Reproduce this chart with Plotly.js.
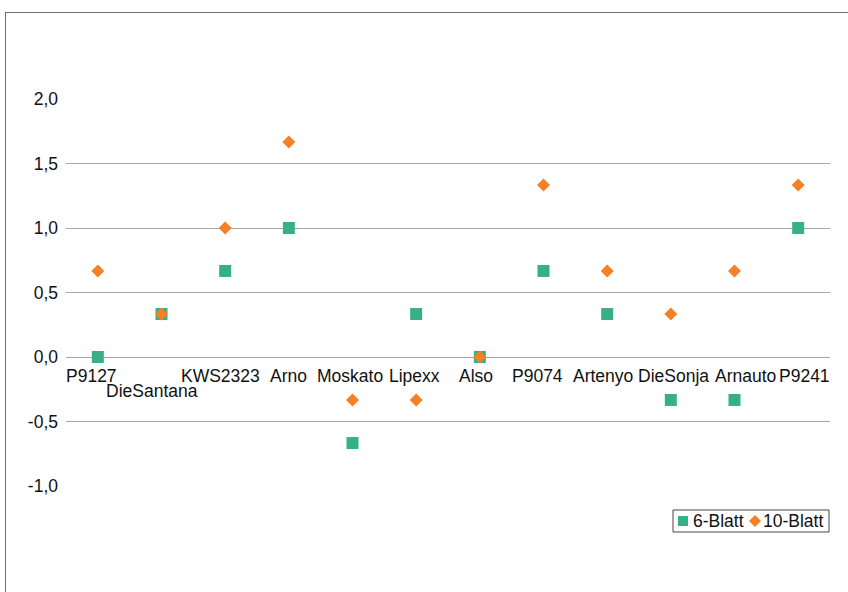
<!DOCTYPE html>
<html>
<head>
<meta charset="utf-8">
<script src="https://cdn.plot.ly/plotly-3.0.1.min.js"></script>
<style>
  html, body { margin: 0; padding: 0; background: #fff; }
  #wrap { position: relative; width: 848px; height: 592px; overflow: hidden; }
  #chart { position: absolute; left: 0; top: 0; width: 848px; height: 592px; }
  #frame { position: absolute; left: 5px; top: 12px; width: 1000px; height: 800px;
           border-left: 1px solid #6e6e6e; border-top: 1px solid #6e6e6e; pointer-events: none; }
</style>
</head>
<body>
<div id="wrap">
  <div id="chart"></div>
  <div id="frame"></div>
</div>
<script>
const categories = ["P9127", "DieSantana", "KWS2323", "Arno", "Moskato", "Lipexx", "Also", "P9074", "Artenyo", "DieSonja", "Arnauto", "P9241"];
const blatt6 = [0, 0.333, 0.667, 1.0, -0.667, 0.333, 0, 0.667, 0.333, -0.333, -0.333, 1.0];
const blatt10 = [0.667, 0.333, 1.0, 1.667, -0.333, -0.333, 0, 1.333, 0.667, 0.333, 0.667, 1.333];
const yTickVals = [-1.0, -0.5, 0.0, 0.5, 1.0, 1.5, 2.0];
const yTickText = ["-1,0", "-0,5", "0,0", "0,5", "1,0", "1,5", "2,0"];
const seriesNames = ["6-Blatt", "10-Blatt"];

// label layout (style only): horizontal nudges and stagger rows to avoid overlap
const labelXShift = [-6, -10, -5, 0, -3, -2, -4, -6, -4, 3, 11, 6];
const labelRow = [0, 1, 0, 0, 0, 0, 0, 0, 0, 0, 0, 0];

const GREEN = "#37b086";
const ORANGE = "#f58026";
const FONT = "Liberation Sans, Arial, sans-serif";
const FS = 17.5;

const xIdx = categories.map((c, i) => i);

const traces = [
  { type: "scatter", mode: "markers", name: seriesNames[0], x: xIdx, y: blatt6,
    marker: { symbol: "square", size: 12, color: GREEN }, hoverinfo: "skip" },
  { type: "scatter", mode: "markers", name: seriesNames[1], x: xIdx, y: blatt10,
    marker: { symbol: "diamond", size: 10, color: ORANGE }, hoverinfo: "skip" }
];

// plot area in px: x 66..830, y 99..486
const L = 66, R = 830, T = 99, B = 486;
const px = v => (v - L) / (R - L);
const py = v => (B - v) / (B - T);

const shapes = [
  { type: "rect", xref: "paper", yref: "paper", x0: px(673), x1: px(829), y0: py(532), y1: py(510),
    line: { color: "#444", width: 1 }, fillcolor: "rgba(0,0,0,0)" },
  { type: "rect", xref: "paper", yref: "paper", xsizemode: "pixel", ysizemode: "pixel",
    xanchor: px(683), yanchor: py(521), x0: -5, x1: 5, y0: -5, y1: 5,
    line: { width: 0 }, fillcolor: GREEN },
  { type: "path", xref: "paper", yref: "paper", xsizemode: "pixel", ysizemode: "pixel",
    xanchor: px(755), yanchor: py(521), path: "M 0 -6 L 6 0 L 0 6 L -6 0 Z",
    line: { width: 0 }, fillcolor: ORANGE }
];

const annotations = [
  { xref: "paper", yref: "paper", x: px(691), y: py(521), xanchor: "left", yanchor: "middle",
    text: seriesNames[0], showarrow: false, font: { family: FONT, size: FS, color: "#111" } },
  { xref: "paper", yref: "paper", x: px(761), y: py(521), xanchor: "left", yanchor: "middle",
    text: seriesNames[1], showarrow: false, font: { family: FONT, size: FS, color: "#111" } }
];

categories.forEach((c, i) => {
  annotations.push({
    xref: "x", yref: "y", x: i, y: 0, xanchor: "center", yanchor: "middle",
    xshift: labelXShift[i], yshift: -19 - 15 * labelRow[i],
    text: c, showarrow: false, font: { family: FONT, size: FS, color: "#111" }
  });
});

const layout = {
  width: 848, height: 592,
  margin: { l: L, r: 848 - R, t: T, b: 592 - B, pad: 0 },
  paper_bgcolor: "#fff", plot_bgcolor: "#fff",
  showlegend: false,
  font: { family: FONT, size: FS, color: "#111" },
  xaxis: {
    range: [-0.5, 11.5], tickmode: "array", tickvals: xIdx, ticktext: categories,
    showticklabels: false, showgrid: false, zeroline: false, showline: false, ticks: "",
    automargin: false
  },
  yaxis: {
    range: [-1, 2], tickmode: "array", tickvals: yTickVals, ticktext: yTickText,
    showgrid: true, gridcolor: "#a6a6a6", gridwidth: 1, zeroline: false, showline: false,
    ticks: "", ticklabelstandoff: 7, automargin: false,
    tickfont: { family: FONT, size: FS, color: "#111" }
  },
  shapes: shapes,
  annotations: annotations
};

Plotly.newPlot("chart", traces, layout, { displayModeBar: false, staticPlot: true });
</script>
</body>
</html>
